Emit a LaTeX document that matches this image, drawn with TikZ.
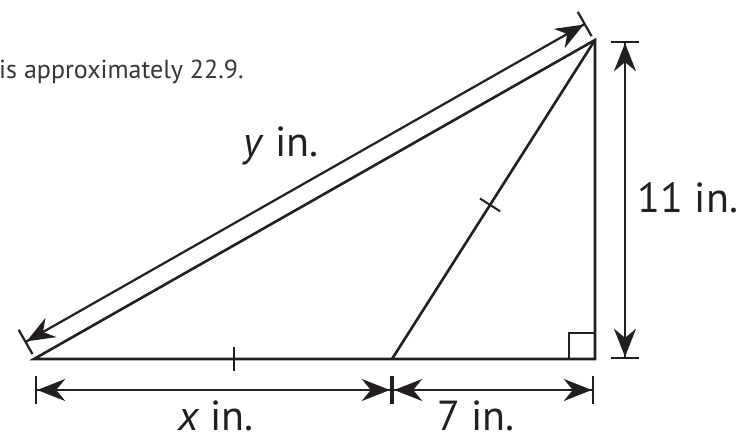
\documentclass[tikz,border=0pt]{standalone}
\usepackage{fontspec}
\setmainfont{PT Sans}
\usetikzlibrary{arrows.meta,calc}
\definecolor{ink}{HTML}{231F20}
\begin{document}
\begin{tikzpicture}[x=1pt,y=-1pt,
  edge/.style={draw=ink,line width=2.6pt,line join=miter},
  thin/.style={draw=ink,line width=2pt},
  dim/.style={draw=ink,line width=2.2pt,
    {Bar[width=28pt]Stealth[length=28pt,width=22pt,inset=9pt]}-{Stealth[length=28pt,width=22pt,inset=9pt]Bar[width=28pt]}},
  lbl/.style={text=ink,font=\fontsize{42}{46}\selectfont,inner sep=0pt,anchor=base,text depth=0pt}]
\useasboundingbox (0,0) rectangle (738,438);
% vertices
\coordinate (A) at (34,359);
\coordinate (D) at (392,359);
\coordinate (C) at (595,359);
\coordinate (B) at (595,40);
% triangle and cevian
\draw[edge] (A) -- (C) -- (B) -- cycle;
\draw[edge] (D) -- (B);
% right angle mark
\draw[thin] ($(C)+(-26,0)$) -- ++(0,-26) -- ++(26,0);
% equal-length ticks
\draw[thin] ($(A)!0.558!(D)$) ++(0,-12) -- ++(0,24);
\coordinate (m) at ($(D)!0.483!(B)$);
\draw[thin] ($(m)!12pt!90:(B)$) -- ($(m)!12pt!-90:(B)$);
% dimension lines
\coordinate (Ay) at ($(A)!19pt!90:(B)$);
\coordinate (By) at ($(B)!19pt!-90:(A)$);
\draw[dim] (Ay) -- (By);
\coordinate (Vt) at (625,41);
\coordinate (Vb) at (625,359);
\draw[dim] (Vt) -- (Vb);
\coordinate (Hl) at (35,390);
\coordinate (Hm) at (392,390);
\coordinate (Hr) at (594,390);
\draw[dim] (Hl) -- (Hm);
\draw[dim] (Hm) -- (Hr);
% labels
\node[lbl] (ly) at (281,157) {\textit{y} in.};
\node[lbl] (l11) at (688,213) {11 in.};
\node[lbl] (lx) at (216,430) {\textit{x} in.};
\node[lbl] (l7) at (476,430) {7 in.};
\node[anchor=base west,inner sep=0pt,text=ink!90,font=\fontsize{26}{30}\selectfont] (note) at (-1,79) {is approximately 22.9.};
\end{tikzpicture}
\end{document}
